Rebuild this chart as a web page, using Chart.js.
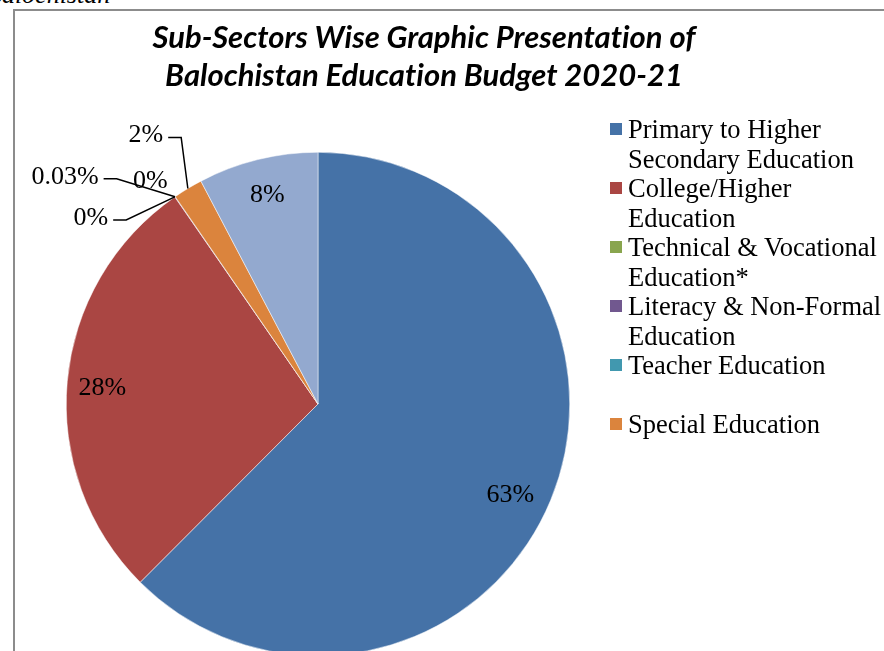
<!DOCTYPE html>
<html>
<head>
<meta charset="utf-8">
<script src="https://cdn.jsdelivr.net/npm/chart.js@4.4.1/dist/chart.umd.min.js"></script>
<style>
  html, body { margin: 0; padding: 0; background: #fff; }
  body { width: 884px; height: 651px; overflow: hidden; position: relative; }
  #frame { position: absolute; left: 13px; top: 9px; width: 900px; height: 700px; border: 2px solid #8c8c8c; }
  #caption { position: absolute; left: -14px; top: -18px; font: italic 26px "Liberation Serif", serif; line-height: 1; white-space: nowrap; }
  #wrap { position: absolute; left: 0; top: 0; width: 884px; height: 700px; }
  #title { position: absolute; left: 74px; width: 700px; top: 17px; text-align: center;
           font: italic bold 31px Lato, "Open Sans", sans-serif; line-height: 38px; color: #000;
           font-variant-ligatures: none; }
  #legend { position: absolute; left: 610px; top: 115px; font: 26.5px "Liberation Serif", serif; color: #000; }
  .item { position: relative; padding-left: 18px; }
  .item .box { position: absolute; left: 0; top: 8px; width: 12px; height: 12px; }
  .item div.line { line-height: 29.5px; white-space: nowrap; }
</style>
</head>
<body>
<div id="caption">Balochistan</div>
<div id="frame"></div>
<div id="wrap"><canvas id="pie" width="884" height="700"></canvas></div>
<div id="title">Sub-Sectors Wise Graphic Presentation of<br>Balochistan Education Budget 2020-21</div>
<div id="legend"></div>
<script>
// sub-sectors, clockwise from 12 o'clock
const categories = [
  'Primary to Higher\nSecondary Education',
  'College/Higher\nEducation',
  'Technical & Vocational\nEducation*',
  'Literacy & Non-Formal\nEducation',
  'Teacher Education\n',
  'Special Education',
  'Others'
];
const shares = [62.5, 27.9, 0, 0.03, 0, 1.9, 7.7];   // percent of budget
const colors = ['#4572A7', '#AA4643', '#89A54E', '#71588F', '#4198AF', '#DB843D', '#93A9CF'];
const legendCount = 6;   // last slice has no legend entry in the source

function pctText(v) {
  if (v === 0) return '0%';
  if (v < 1) return v + '%';
  return Math.round(v) + '%';
}

// small slices get their labels pulled outside with leader lines
const outside = {
  2: { dx: -84, dy: 21, line: true },
  3: { dx: -110, dy: -20, line: true },
  4: { dx: -25, dy: -15, line: false },
  5: { dx: -42, dy: -53, line: true }
};
// little nudges for the inside labels
const nudge = { 0: { dx: -3, dy: 10 }, 1: { dx: -5, dy: 3 }, 6: { dx: 0, dy: -4 } };

const labelPlugin = {
  id: 'pctLabels',
  afterDatasetsDraw(chart) {
    const ctx = chart.ctx;
    const arcs = chart.getDatasetMeta(0).data;
    ctx.save();
    ctx.font = '26px "Liberation Serif", serif';
    ctx.fillStyle = '#000';
    ctx.strokeStyle = '#000';
    ctx.lineWidth = 1.5;
    ctx.textBaseline = 'middle';
    ctx.textAlign = 'center';
    arcs.forEach((arc, i) => {
      const p = arc.getProps(['x', 'y', 'startAngle', 'endAngle', 'outerRadius'], true);
      const mid = (p.startAngle + p.endAngle) / 2;
      const txt = pctText(shares[i]);
      const o = outside[i];
      if (!o) {
        const r = p.outerRadius * 0.84;
        const n = nudge[i] || { dx: 0, dy: 0 };
        ctx.fillText(txt, p.x + Math.cos(mid) * r + n.dx, p.y + Math.sin(mid) * r + n.dy);
        return;
      }
      const ax = p.x + Math.cos(mid) * p.outerRadius;
      const ay = p.y + Math.sin(mid) * p.outerRadius;
      const tx = ax + o.dx, ty = ay + o.dy;
      ctx.fillText(txt, tx, ty);
      if (o.line) {
        const w = ctx.measureText(txt).width;
        const sx = tx + w / 2 + 5;
        ctx.beginPath();
        ctx.moveTo(sx, ty + 2);
        ctx.lineTo(sx + 13, ty + 2);
        ctx.lineTo(ax, ay);
        ctx.stroke();
      }
    });
    ctx.restore();
  }
};

new Chart(document.getElementById('pie'), {
  type: 'pie',
  data: {
    labels: categories.map(c => c.replace('\n', ' ').trim()),
    datasets: [{
      data: shares,
      backgroundColor: colors,
      borderColor: '#ffffff',
      borderWidth: 0.5
    }]
  },
  options: {
    responsive: false,
    animation: false,
    layout: { padding: { left: 66, right: 314, top: 152, bottom: 44 } },
    plugins: {
      legend: { display: false },
      tooltip: { enabled: false }
    }
  },
  plugins: [labelPlugin]
});

// legend, wrapped the way the source wraps it
const legendEl = document.getElementById('legend');
categories.slice(0, legendCount).forEach((name, i) => {
  const item = document.createElement('div');
  item.className = 'item';
  const box = document.createElement('span');
  box.className = 'box';
  box.style.background = colors[i];
  item.appendChild(box);
  name.split('\n').forEach(t => {
    const line = document.createElement('div');
    line.className = 'line';
    line.textContent = t || '\u00a0';
    item.appendChild(line);
  });
  legendEl.appendChild(item);
});
</script>
</body>
</html>
